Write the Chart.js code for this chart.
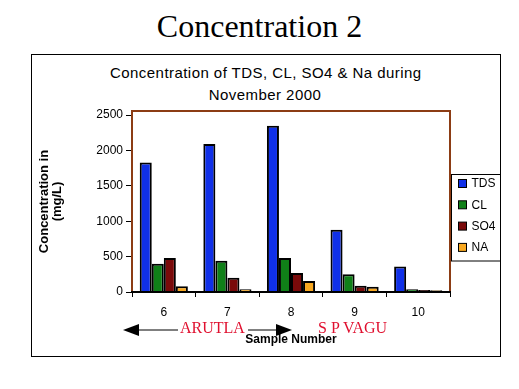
<!DOCTYPE html>
<html>
<head>
<meta charset="utf-8">
<script src="https://cdn.jsdelivr.net/npm/chart.js@4.4.0/dist/chart.umd.min.js"></script>
<style>
    body { margin: 0; background: #fff; }
    #page { position: relative; width: 519px; height: 389px; overflow: hidden; }
    #heading {
        position: absolute; left: 0; top: 10px; width: 519px; text-align: center;
        font: 32px "Liberation Serif", "Times New Roman", serif; line-height: 32px; color: #000;
    }
    #frame {
        position: absolute; left: 31px; top: 54px; width: 470px; height: 303px;
        box-sizing: border-box; border: 1px solid #000;
    }
    #chartTitle {
        position: absolute; left: 110px; top: 62px; width: 310px; text-align: center;
        font: 15px Arial, "Liberation Sans", sans-serif; line-height: 22px;
        letter-spacing: 0.45px; color: #000; white-space: nowrap;
    }
    #chart { position: absolute; left: 0; top: 0; }
    .place {
        position: absolute; font: 16px "Liberation Serif", "Times New Roman", serif;
        color: #e0102f; line-height: 16px; white-space: nowrap;
    }
    #arrows { position: absolute; left: 0; top: 0; }
</style>
</head>
<body>
<div id="page">
    <div id="heading">Concentration 2</div>
    <div id="frame"></div>
    <div id="chartTitle">Concentration of TDS, CL, SO4 &amp; Na during<br>November 2000</div>
    <canvas id="chart" width="519" height="389"></canvas>
    <svg id="arrows" width="519" height="389">
        <line x1="136" y1="330" x2="178" y2="330" stroke="#000" stroke-width="1"/>
        <line x1="248" y1="330" x2="278" y2="330" stroke="#000" stroke-width="1"/>
        <polygon points="123,330 139,324 139,336" fill="#000"/>
        <polygon points="292,330 276,324 276,336" fill="#000"/>
    </svg>
    <span class="place" style="left:180px; top:320px;">ARUTLA</span>
    <span class="place" style="left:318px; top:320px;">S P VAGU</span>
</div>
<script>
const samples = ['6', '7', '8', '9', '10']
const tds = [1830, 2090, 2350, 880, 360]
const cl = [400, 440, 480, 250, 40]
const so4 = [480, 200, 270, 90, 28]
const na = [80, 40, 155, 75, 25]
const yTicks = [0, 500, 1000, 1500, 2000, 2500]

const sans = 'Arial, "Liberation Sans", sans-serif'
Chart.defaults.color = '#000'
Chart.defaults.font.family = sans

// brown plot frame, black base line
const frame = {
    id: 'frame',
    afterDatasetsDraw(chart) {
        const a = chart.chartArea
        const ctx = chart.ctx
        ctx.save()
        ctx.lineWidth = 2
        ctx.strokeStyle = '#8c3c14'
        ctx.beginPath()
        ctx.moveTo(a.left, a.bottom)
        ctx.lineTo(a.left, a.top)
        ctx.lineTo(a.right, a.top)
        ctx.lineTo(a.right, a.bottom)
        ctx.stroke()
        ctx.strokeStyle = '#000'
        ctx.beginPath()
        ctx.moveTo(a.left - 1, a.bottom)
        ctx.lineTo(a.right + 1, a.bottom)
        ctx.stroke()
        ctx.restore()
    }
}

// boxed legend on the right
const sideLegend = {
    id: 'sideLegend',
    afterDraw(chart) {
        const ctx = chart.ctx
        const x0 = chart.chartArea.right + 1.5
        const y0 = 174.5
        ctx.save()
        ctx.fillStyle = '#fff'
        ctx.fillRect(x0, y0, 49, 86.5)
        ctx.strokeStyle = '#000'
        ctx.lineWidth = 1
        ctx.strokeRect(x0, y0, 49, 86.5)
        ctx.font = '12px ' + sans
        ctx.textBaseline = 'middle'
        chart.data.datasets.forEach((ds, i) => {
            const cy = 183.5 + i * 21.3
            ctx.fillStyle = ds.backgroundColor
            ctx.fillRect(x0 + 7, cy - 4, 8, 8)
            ctx.strokeRect(x0 + 7, cy - 4, 8, 8)
            ctx.fillStyle = '#000'
            ctx.fillText(ds.label, x0 + 20, cy + 0.5)
        })
        ctx.restore()
    }
}

const bar = (label, data, color) => ({
    label: label,
    data: data,
    backgroundColor: color,
    borderColor: '#000',
    borderWidth: 2,
    barPercentage: 1,
    categoryPercentage: 0.757
})

new Chart(document.getElementById('chart'), {
    type: 'bar',
    data: {
        labels: samples,
        datasets: [
            bar('TDS', tds, '#1030e8'),
            bar('CL', cl, '#108018'),
            bar('SO4', so4, '#7a0a0a'),
            bar('NA', na, '#f8a820')
        ]
    },
    options: {
        responsive: false,
        animation: false,
        layout: { padding: { left: 30, top: 111, right: 69, bottom: 41 } },
        plugins: {
            legend: { display: false },
            tooltip: { enabled: false }
        },
        scales: {
            x: {
                grid: { offset: true, drawOnChartArea: false, tickLength: 5, color: '#000', lineWidth: 1 },
                border: { display: false },
                ticks: { font: { size: 12 }, padding: 8, maxRotation: 0 },
                title: {
                    display: true, text: 'Sample Number',
                    font: { size: 12, weight: 'bold' }, padding: { top: 0, bottom: 1 }
                },
                afterFit(scale) { scale.height = 56 }
            },
            y: {
                min: 0,
                max: 2557,
                grid: { drawOnChartArea: false, tickLength: 6, color: '#000', lineWidth: 1 },
                border: { display: false },
                ticks: { font: { size: 12 }, padding: 3, callback: v => String(v) },
                afterBuildTicks(scale) { scale.ticks = yTicks.map(v => ({ value: v })) },
                title: {
                    display: true, text: ['Concentration in', '(mg/L)'],
                    font: { size: 13, weight: 'bold', lineHeight: 12.5 / 13 },
                    padding: { top: 8.25, bottom: 0 }
                },
                afterFit(scale) { scale.width = 102 }
            }
        }
    },
    plugins: [frame, sideLegend]
})
</script>
</body>
</html>
